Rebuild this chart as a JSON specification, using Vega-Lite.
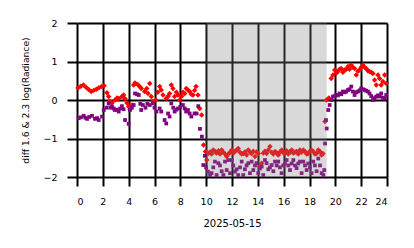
{
  "$schema": "https://vega.github.io/schema/vega-lite/v6.json",
  "width": 310,
  "height": 154,
  "autosize": {"type": "none"},
  "padding": {"left": 77, "top": 23, "right": 27, "bottom": 71},
  "config": {
    "view": {"stroke": null},
    "font": "DejaVu Sans",
    "axis": {
      "grid": true, "gridColor": "#000000", "gridWidth": 2, "gridOpacity": 1,
      "domain": false, "tickColor": "#000000", "tickWidth": 2,
      "labelColor": "#000000", "titleColor": "#000000",
      "labelFont": "DejaVu Sans", "titleFont": "DejaVu Sans",
      "labelFontSize": 9.5, "titleFontSize": 10, "titleFontWeight": "normal",
      "labelOverlap": false, "zindex": 1
    }
  },
  "datasets": {
    "red": [
      {"h":0.08,"v":0.31},{"h":0.3,"v":0.36},{"h":0.5,"v":0.39},{"h":0.7,"v":0.33},{"h":0.9,"v":0.27},{"h":1.1,"v":0.22},{"h":1.3,"v":0.25},{"h":1.5,"v":0.28},{"h":1.7,"v":0.32},{"h":1.9,"v":0.35},{"h":2.1,"v":0.37},{"h":2.32,"v":0.19},{"h":2.45,"v":0.09},{"h":2.55,"v":-0.04},{"h":2.71,"v":-0.08},{"h":2.94,"v":0},{"h":3.1,"v":0.05},{"h":3.23,"v":0.04},{"h":3.48,"v":0.09},{"h":3.61,"v":0.13},{"h":3.72,"v":0.03},{"h":3.87,"v":-0.08},{"h":4.0,"v":-0.17},{"h":4.1,"v":-0.24},{"h":4.26,"v":-0.13},{"h":4.39,"v":0.39},{"h":4.49,"v":0.44},{"h":4.7,"v":0.4},{"h":4.85,"v":0.35},{"h":4.98,"v":0.3},{"h":5.24,"v":0.22},{"h":5.4,"v":0.3},{"h":5.5,"v":0.17},{"h":5.63,"v":0.43},{"h":5.75,"v":0.09},{"h":5.88,"v":-0.04},{"h":6.11,"v":0},{"h":6.25,"v":0.2},{"h":6.4,"v":0.35},{"h":6.52,"v":0.26},{"h":6.66,"v":0.13},{"h":6.91,"v":0.04},{"h":7.05,"v":0.1},{"h":7.17,"v":0.17},{"h":7.3,"v":0.39},{"h":7.43,"v":0.3},{"h":7.56,"v":0.09},{"h":7.7,"v":0.2},{"h":7.82,"v":0.13},{"h":7.95,"v":0},{"h":8.1,"v":0.1},{"h":8.2,"v":0.2},{"h":8.34,"v":0.17},{"h":8.46,"v":0.3},{"h":8.59,"v":0.26},{"h":8.72,"v":0.22},{"h":8.85,"v":0.15},{"h":8.98,"v":0.13},{"h":9.1,"v":0.25},{"h":9.22,"v":0.35},{"h":9.37,"v":0.13},{"h":9.5,"v":-0.22},{"h":9.65,"v":-0.39},{"h":9.8,"v":-1.17},{"h":9.95,"v":-1.34},{"h":10.05,"v":-1.56},{"h":10.16,"v":-1.39},{"h":10.3,"v":-1.35},{"h":10.42,"v":-1.4},{"h":10.55,"v":-1.3},{"h":10.68,"v":-1.34},{"h":10.8,"v":-1.38},{"h":10.94,"v":-1.32},{"h":11.07,"v":-1.4},{"h":11.2,"v":-1.3},{"h":11.33,"v":-1.36},{"h":11.46,"v":-1.4},{"h":11.59,"v":-1.47},{"h":11.72,"v":-1.4},{"h":11.85,"v":-1.36},{"h":11.98,"v":-1.3},{"h":12.1,"v":-1.38},{"h":12.23,"v":-1.34},{"h":12.36,"v":-1.3},{"h":12.48,"v":-1.26},{"h":12.62,"v":-1.36},{"h":12.75,"v":-1.4},{"h":12.87,"v":-1.39},{"h":13.0,"v":-1.35},{"h":13.13,"v":-1.43},{"h":13.26,"v":-1.3},{"h":13.39,"v":-1.36},{"h":13.52,"v":-1.39},{"h":13.65,"v":-1.33},{"h":13.78,"v":-1.47},{"h":13.9,"v":-1.35},{"h":14.03,"v":-1.39},{"h":14.16,"v":-1.73},{"h":14.3,"v":-1.64},{"h":14.42,"v":-1.38},{"h":14.55,"v":-1.33},{"h":14.68,"v":-1.39},{"h":14.81,"v":-1.3},{"h":14.94,"v":-1.21},{"h":15.07,"v":-1.36},{"h":15.2,"v":-1.4},{"h":15.33,"v":-1.34},{"h":15.46,"v":-1.37},{"h":15.58,"v":-1.43},{"h":15.71,"v":-1.35},{"h":15.84,"v":-1.3},{"h":15.97,"v":-1.37},{"h":16.1,"v":-1.39},{"h":16.23,"v":-1.32},{"h":16.36,"v":-1.4},{"h":16.49,"v":-1.34},{"h":16.62,"v":-1.3},{"h":16.75,"v":-1.38},{"h":16.88,"v":-1.35},{"h":17.0,"v":-1.34},{"h":17.13,"v":-1.4},{"h":17.26,"v":-1.3},{"h":17.39,"v":-1.36},{"h":17.52,"v":-1.3},{"h":17.65,"v":-1.34},{"h":17.78,"v":-1.4},{"h":17.9,"v":-1.39},{"h":18.03,"v":-1.33},{"h":18.16,"v":-1.3},{"h":18.29,"v":-1.34},{"h":18.42,"v":-1.4},{"h":18.55,"v":-1.39},{"h":18.68,"v":-1.3},{"h":18.81,"v":-1.34},{"h":18.94,"v":-1.43},{"h":19.04,"v":-1.39},{"h":19.2,"v":-0.56},{"h":19.3,"v":0},{"h":19.5,"v":0.05},{"h":19.68,"v":0.56},{"h":19.82,"v":0.65},{"h":19.95,"v":0.78},{"h":20.08,"v":0.7},{"h":20.2,"v":0.74},{"h":20.33,"v":0.8},{"h":20.46,"v":0.82},{"h":20.59,"v":0.72},{"h":20.72,"v":0.78},{"h":20.85,"v":0.8},{"h":20.98,"v":0.87},{"h":21.1,"v":0.8},{"h":21.23,"v":0.91},{"h":21.36,"v":0.85},{"h":21.49,"v":0.82},{"h":21.62,"v":0.65},{"h":21.75,"v":0.75},{"h":21.88,"v":0.78},{"h":22.0,"v":0.85},{"h":22.14,"v":0.91},{"h":22.27,"v":0.85},{"h":22.39,"v":0.82},{"h":22.52,"v":0.76},{"h":22.65,"v":0.74},{"h":22.78,"v":0.72},{"h":22.91,"v":0.69},{"h":23.04,"v":0.52},{"h":23.17,"v":0.39},{"h":23.3,"v":0.65},{"h":23.43,"v":0.56},{"h":23.55,"v":0.39},{"h":23.68,"v":0.48},{"h":23.82,"v":0.65},{"h":23.94,"v":0.43}
    ],
    "purple": [
      {"h":0.13,"v":-0.47},{"h":0.3,"v":-0.45},{"h":0.52,"v":-0.41},{"h":0.65,"v":-0.46},{"h":0.78,"v":-0.49},{"h":0.95,"v":-0.44},{"h":1.16,"v":-0.41},{"h":1.39,"v":-0.49},{"h":1.55,"v":-0.47},{"h":1.68,"v":-0.52},{"h":1.94,"v":-0.43},{"h":2.07,"v":-0.26},{"h":2.3,"v":-0.2},{"h":2.45,"v":-0.09},{"h":2.6,"v":-0.2},{"h":2.71,"v":-0.17},{"h":2.85,"v":-0.22},{"h":2.94,"v":-0.26},{"h":3.1,"v":-0.25},{"h":3.23,"v":-0.3},{"h":3.35,"v":-0.22},{"h":3.48,"v":-0.16},{"h":3.61,"v":-0.24},{"h":3.72,"v":-0.52},{"h":4.0,"v":-0.62},{"h":4.1,"v":-0.26},{"h":4.25,"v":-0.2},{"h":4.39,"v":-0.13},{"h":4.49,"v":0.17},{"h":4.65,"v":0.15},{"h":4.78,"v":0.13},{"h":4.9,"v":-0.1},{"h":4.97,"v":-0.26},{"h":5.1,"v":-0.13},{"h":5.3,"v":-0.2},{"h":5.45,"v":-0.1},{"h":5.63,"v":-0.13},{"h":5.88,"v":-0.09},{"h":6.0,"v":-0.2},{"h":6.15,"v":-0.3},{"h":6.4,"v":-0.22},{"h":6.52,"v":-0.3},{"h":6.78,"v":-0.52},{"h":6.91,"v":-0.61},{"h":7.05,"v":-0.35},{"h":7.17,"v":-0.43},{"h":7.3,"v":-0.09},{"h":7.45,"v":-0.2},{"h":7.56,"v":-0.3},{"h":7.7,"v":-0.25},{"h":7.82,"v":-0.22},{"h":8.0,"v":-0.18},{"h":8.2,"v":-0.13},{"h":8.34,"v":-0.22},{"h":8.45,"v":-0.3},{"h":8.59,"v":-0.26},{"h":8.72,"v":-0.35},{"h":8.85,"v":-0.43},{"h":9.1,"v":-0.35},{"h":9.26,"v":-0.35},{"h":9.39,"v":-0.16},{"h":9.52,"v":-0.75},{"h":9.67,"v":-0.95},{"h":9.78,"v":-1.69},{"h":9.9,"v":-1.45},{"h":10.0,"v":-1.75},{"h":10.14,"v":-1.86},{"h":10.3,"v":-1.95},{"h":10.42,"v":-1.9},{"h":10.55,"v":-1.75},{"h":10.68,"v":-1.6},{"h":10.81,"v":-1.95},{"h":10.94,"v":-1.64},{"h":11.07,"v":-1.7},{"h":11.2,"v":-1.85},{"h":11.33,"v":-1.95},{"h":11.46,"v":-1.6},{"h":11.59,"v":-1.82},{"h":11.72,"v":-1.56},{"h":11.85,"v":-1.9},{"h":11.98,"v":-1.56},{"h":12.1,"v":-1.7},{"h":12.23,"v":-1.86},{"h":12.36,"v":-1.8},{"h":12.48,"v":-1.95},{"h":12.62,"v":-1.75},{"h":12.75,"v":-1.6},{"h":12.87,"v":-1.95},{"h":13.0,"v":-1.8},{"h":13.13,"v":-1.7},{"h":13.26,"v":-1.64},{"h":13.39,"v":-1.9},{"h":13.52,"v":-1.6},{"h":13.65,"v":-1.82},{"h":13.78,"v":-1.7},{"h":13.9,"v":-1.64},{"h":14.03,"v":-1.9},{"h":14.16,"v":-1.78},{"h":14.3,"v":-1.73},{"h":14.42,"v":-1.95},{"h":14.55,"v":-1.56},{"h":14.68,"v":-1.64},{"h":14.81,"v":-1.8},{"h":14.94,"v":-1.75},{"h":15.07,"v":-1.69},{"h":15.2,"v":-1.85},{"h":15.33,"v":-1.6},{"h":15.46,"v":-1.7},{"h":15.58,"v":-1.6},{"h":15.71,"v":-1.75},{"h":15.84,"v":-1.9},{"h":15.97,"v":-1.7},{"h":16.1,"v":-1.65},{"h":16.23,"v":-1.56},{"h":16.36,"v":-1.7},{"h":16.49,"v":-1.82},{"h":16.62,"v":-1.65},{"h":16.75,"v":-1.56},{"h":16.88,"v":-1.7},{"h":17.0,"v":-1.77},{"h":17.13,"v":-1.65},{"h":17.26,"v":-1.6},{"h":17.39,"v":-1.9},{"h":17.52,"v":-1.6},{"h":17.65,"v":-1.7},{"h":17.78,"v":-1.82},{"h":17.9,"v":-1.65},{"h":18.03,"v":-1.75},{"h":18.16,"v":-1.9},{"h":18.29,"v":-1.6},{"h":18.42,"v":-1.7},{"h":18.55,"v":-1.85},{"h":18.68,"v":-1.52},{"h":18.81,"v":-1.7},{"h":18.94,"v":-1.9},{"h":19.07,"v":-1.95},{"h":19.14,"v":-1.82},{"h":19.2,"v":-1.13},{"h":19.27,"v":-0.52},{"h":19.33,"v":-0.74},{"h":19.45,"v":-0.26},{"h":19.56,"v":-0.13},{"h":19.7,"v":0.0},{"h":19.82,"v":0.09},{"h":19.95,"v":0.1},{"h":20.08,"v":0.13},{"h":20.2,"v":0.12},{"h":20.33,"v":0.17},{"h":20.46,"v":0.15},{"h":20.59,"v":0.22},{"h":20.72,"v":0.2},{"h":20.85,"v":0.22},{"h":20.98,"v":0.26},{"h":21.1,"v":0.28},{"h":21.23,"v":0.35},{"h":21.36,"v":0.22},{"h":21.49,"v":0.13},{"h":21.62,"v":0.2},{"h":21.75,"v":0.22},{"h":21.88,"v":0.25},{"h":22.0,"v":0.3},{"h":22.14,"v":0.28},{"h":22.27,"v":0.26},{"h":22.39,"v":0.24},{"h":22.52,"v":0.22},{"h":22.65,"v":0.17},{"h":22.78,"v":0.1},{"h":22.91,"v":0.0},{"h":23.04,"v":0.05},{"h":23.17,"v":0.09},{"h":23.3,"v":0.12},{"h":23.43,"v":0.09},{"h":23.55,"v":0.17},{"h":23.68,"v":0.06},{"h":23.82,"v":0.04},{"h":23.94,"v":0.13}
    ],
    "shade": [{"h": 10, "h2": 19.33}]
  },
  "layer": [
    {
      "data": {"name": "red"},
      "mark": {"type": "point", "shape": "diamond", "filled": true, "color": "#ff0000", "opacity": 1, "size": 30, "strokeWidth": 0},
      "encoding": {
        "x": {"field": "h", "type": "quantitative",
              "scale": {"domain": [0, 24], "nice": false, "zero": false},
              "axis": {"values": [0,2,4,6,8,10,12,14,16,18,20,22,24], "tickSize": 9, "labelPadding": 10,
                       "title": "2025-05-15", "titleY": 46, "titleBaseline": "middle"}},
        "y": {"field": "v", "type": "quantitative",
              "scale": {"domain": [-2, 2], "nice": false, "zero": false},
              "axis": {"values": [-2,-1,0,1,2], "tickSize": 10, "labelPadding": 10,
                       "title": "diff 1.6 & 2.3  log(Radiance)", "titleX": -52, "titleY": 77, "titleFontSize": 9.2,
                       "titleAngle": -90, "titleAlign": "center", "titleBaseline": "middle"}}
      }
    },
    {
      "data": {"name": "purple"},
      "mark": {"type": "point", "shape": "square", "filled": true, "color": "#800080", "opacity": 1, "size": 14, "strokeWidth": 0},
      "encoding": {
        "x": {"field": "h", "type": "quantitative",
              "scale": {"domain": [0, 24], "nice": false, "zero": false},
              "axis": {"values": [0,2,4,6,8,10,12,14,16,18,20,22,24], "tickSize": 9, "labelPadding": 10,
                       "title": "2025-05-15", "titleY": 46, "titleBaseline": "middle"}},
        "y": {"field": "v", "type": "quantitative",
              "scale": {"domain": [-2, 2], "nice": false, "zero": false},
              "axis": {"values": [-2,-1,0,1,2], "tickSize": 10, "labelPadding": 10,
                       "title": "diff 1.6 & 2.3  log(Radiance)", "titleX": -52, "titleY": 77, "titleFontSize": 9.2,
                       "titleAngle": -90, "titleAlign": "center", "titleBaseline": "middle"}}
      }
    },
    {
      "data": {"name": "shade"},
      "mark": {"type": "rect", "color": "#808080", "opacity": 0.3},
      "encoding": {
        "x": {"field": "h", "type": "quantitative",
              "scale": {"domain": [0, 24], "nice": false, "zero": false},
              "axis": {"values": [0,2,4,6,8,10,12,14,16,18,20,22,24], "tickSize": 9, "labelPadding": 10,
                       "title": "2025-05-15", "titleY": 46, "titleBaseline": "middle"}},
        "x2": {"field": "h2"}
      }
    }
  ]
}
